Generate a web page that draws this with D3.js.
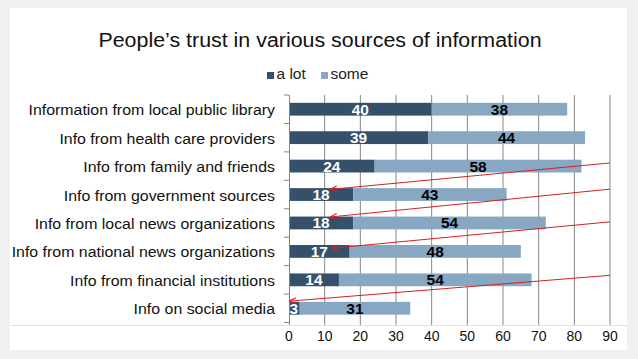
<html>
<head>
<script src="https://d3js.org/d3.v7.min.js"></script>
<style>
  body { margin: 0; background: #f0f0f0; }
  text { font-family: "Liberation Sans", Arial, sans-serif; }
</style>
</head>
<body>
<svg id="chart" width="638" height="359"></svg>
<script>
var categories = [
  "Information from local public library",
  "Info from health care providers",
  "Info from family and friends",
  "Info from government sources",
  "Info from local news organizations",
  "Info from national news organizations",
  "Info from financial institutions",
  "Info on social media"
];
var aLot = [40, 39, 24, 18, 18, 17, 14, 3];
var some = [38, 44, 58, 43, 54, 48, 54, 31];
var seriesNames = ["a lot", "some"];
var xTicks = [0, 10, 20, 30, 40, 50, 60, 70, 80, 90];

// red annotation arrows: from (value, row, offset) to (value, row, offset)
var arrows = [
  { from: [90, 2, -0.11], to: [11.5, 3, -0.18] },
  { from: [90, 3, -0.19], to: [11.5, 4, -0.21] },
  { from: [90, 4, -0.04], to: [12, 5, -0.11] },
  { from: [90, 6, -0.16], to: [0, 7, -0.25] }
];

var colors = ["#35506a", "#87a7c2"];

var svg = d3.select("#chart");

svg.append("rect")
  .attr("x", 10).attr("y", 8)
  .attr("width", 617).attr("height", 342)
  .attr("fill", "#fff");

var x = d3.scaleLinear().domain([0, 90]).range([289, 610]);
var y = d3.scaleBand().domain(categories).range([95, 322.5]).paddingInner(0.55).paddingOuter(0.275);

// text stretched a little horizontally, like the reference
function stext(g, tx, ty, sx, str) {
  return g.append("text")
    .attr("transform", "translate(" + tx + "," + ty + ") scale(" + sx + ",1)")
    .text(str);
}

// title
stext(svg, 320, 47, 1.07, "People\u2019s trust in various sources of information")
  .attr("text-anchor", "middle")
  .attr("font-size", 20)
  .attr("fill", "#111");

// legend
var legend = svg.append("g").attr("transform", "translate(267,79)");
var lx = [0, 54];
seriesNames.forEach(function(name, i) {
  legend.append("rect")
    .attr("x", lx[i]).attr("y", -7)
    .attr("width", 7).attr("height", 7)
    .attr("fill", colors[i]);
  stext(legend, lx[i] + 9.5, 0, 1.07, name)
    .attr("font-size", 14.5)
    .attr("fill", "#222");
});

// gridlines
svg.append("g").selectAll("line")
  .data(xTicks.slice(1))
  .enter().append("line")
  .attr("x1", function(d) { return x(d); })
  .attr("x2", function(d) { return x(d); })
  .attr("y1", 95).attr("y2", 325)
  .attr("stroke", "#858585").attr("stroke-width", 1);

// bottom faint line
svg.append("line")
  .attr("x1", 10).attr("x2", 627)
  .attr("y1", 325.5).attr("y2", 325.5)
  .attr("stroke", "#e2e2e2");

// bars
var rows = categories.map(function(c, i) { return { cat: c, a: aLot[i], s: some[i] }; });

var bars = svg.append("g");
bars.selectAll(".alot")
  .data(rows).enter().append("rect")
  .attr("x", x(0))
  .attr("y", function(d) { return y(d.cat); })
  .attr("width", function(d) { return x(d.a) - x(0); })
  .attr("height", y.bandwidth())
  .attr("fill", colors[0]);
bars.selectAll(".some")
  .data(rows).enter().append("rect")
  .attr("x", function(d) { return x(d.a); })
  .attr("y", function(d) { return y(d.cat); })
  .attr("width", function(d) { return x(d.a + d.s) - x(d.a); })
  .attr("height", y.bandwidth())
  .attr("fill", colors[1]);

// value labels
bars.selectAll(".lblA")
  .data(rows).enter().append("text")
  .attr("x", function(d) { return d.a < 5 ? x(0) + 0.5 : x(d.a / 2); })
  .attr("y", function(d) { return y(d.cat) + y.bandwidth() / 2 + 5.5; })
  .attr("text-anchor", function(d) { return d.a < 5 ? "start" : "middle"; })
  .attr("font-size", 15.5).attr("font-weight", "bold")
  .attr("fill", "#fff")
  .text(function(d) { return d.a; });
bars.selectAll(".lblS")
  .data(rows).enter().append("text")
  .attr("x", function(d) { return x(d.a + d.s / 2); })
  .attr("y", function(d) { return y(d.cat) + y.bandwidth() / 2 + 5.5; })
  .attr("text-anchor", "middle")
  .attr("font-size", 15.5).attr("font-weight", "bold")
  .attr("fill", "#000")
  .text(function(d) { return d.s; });

// left axis
var yAxis = svg.append("g");
yAxis.append("line")
  .attr("x1", x(0) + 0.5).attr("x2", x(0) + 0.5)
  .attr("y1", 95).attr("y2", 325)
  .attr("stroke", "#858585");
var step = y.step();
yAxis.selectAll(".tk")
  .data(d3.range(categories.length + 1))
  .enter().append("line")
  .attr("x1", x(0) - 5).attr("x2", x(0))
  .attr("y1", function(i) { return 95 + i * step; })
  .attr("y2", function(i) { return 95 + i * step; })
  .attr("stroke", "#858585");
categories.forEach(function(c) {
  stext(yAxis, 275, y(c) + y.bandwidth() / 2 + 6, 1.04, c)
    .attr("text-anchor", "end")
    .attr("font-size", 15.3)
    .attr("fill", "#111");
});

// x tick labels
svg.append("g").selectAll("text")
  .data(xTicks).enter().append("text")
  .attr("x", function(d) { return x(d); })
  .attr("y", 341)
  .attr("text-anchor", "middle")
  .attr("font-size", 14)
  .attr("fill", "#111")
  .text(function(d) { return d; });

// arrows
svg.append("defs").append("marker")
  .attr("id", "ah")
  .attr("viewBox", "0 0 10 10")
  .attr("refX", 10).attr("refY", 5)
  .attr("markerWidth", 7).attr("markerHeight", 7)
  .attr("markerUnits", "userSpaceOnUse")
  .attr("orient", "auto")
  .append("path")
  .attr("d", "M0,1 L10,5 L0,9")
  .attr("fill", "none")
  .attr("stroke", "#d62020")
  .attr("stroke-width", 1.5);

function ay(p) { return y(categories[p[1]]) + y.bandwidth() / 2 + p[2] * step; }

svg.append("g").selectAll("line")
  .data(arrows).enter().append("line")
  .attr("x1", function(d) { return x(d.from[0]); })
  .attr("y1", function(d) { return ay(d.from); })
  .attr("x2", function(d) { return x(d.to[0]); })
  .attr("y2", function(d) { return ay(d.to); })
  .attr("stroke", "#d62020")
  .attr("stroke-width", 1)
  .attr("marker-end", "url(#ah)");
</script>
</body>
</html>
